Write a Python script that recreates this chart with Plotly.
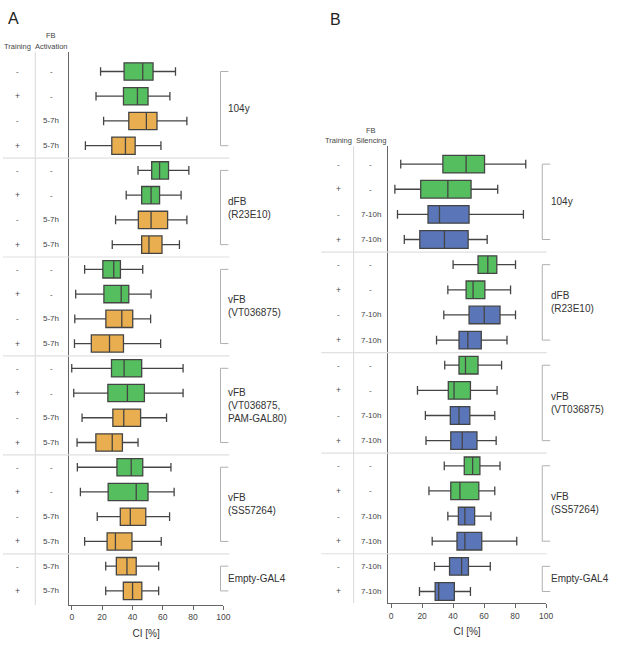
import plotly.graph_objects as go

W, H = 617, 653

# ---- panel A (FB activation) ----
a_groups = ["104y", "dFB<br>(R23E10)", "vFB<br>(VT036875)",
            "vFB<br>(VT036875,<br>PAM-GAL80)", "vFB<br>(SS57264)", "Empty-GAL4"]
a_group_sizes = [4, 4, 4, 4, 4, 2]
a_training = ["-", "+", "-", "+"] * 5 + ["-", "+"]
a_activation = ["-", "-", "5-7h", "5-7h"] * 5 + ["5-7h", "5-7h"]
a_low = [19, 16, 21, 9, 43.7, 35.9, 28.9, 26.7, 8.5, 2.6, 2, 1.8,
         0, 1.3, 6.8, 3.5, 3.7, 5.7, 16.8, 8.5, 22.4, 22.4]
a_q1 = [34.5, 34.1, 37.6, 26.4, 52.7, 46.1, 43.9, 46.1, 20.5, 21.2, 22.5, 12.9,
        26.2, 23.8, 27.1, 15.9, 29.8, 24, 32, 23.3, 29.4, 34]
a_med = [46.8, 43.3, 49.2, 35.4, 57.9, 52.3, 52.3, 50.9, 27.7, 32.6, 33, 24.9,
         34.5, 36.7, 34.3, 26.7, 39.2, 42.5, 38.6, 28.8, 36.4, 40.1]
a_q3 = [53.6, 50.3, 56.2, 41.8, 63.8, 57.9, 63.2, 59.5, 32.1, 37.6, 40.2, 34.1,
        46.1, 47.9, 45.4, 33.4, 46.8, 50.3, 48.8, 39.7, 42.5, 46.2]
a_high = [68.4, 64.7, 75.9, 58.8, 77.2, 72.1, 75.9, 71, 46.8, 52.3, 52, 58.6,
          73.4, 73.4, 62.5, 43.7, 65.4, 67.5, 64.5, 59, 57.3, 57.3]

# ---- panel B (FB silencing) ----
b_groups = ["104y", "dFB<br>(R23E10)", "vFB<br>(VT036875)", "vFB<br>(SS57264)", "Empty-GAL4"]
b_group_sizes = [4, 4, 4, 4, 2]
b_training = ["-", "+", "-", "+"] * 4 + ["-", "+"]
b_silencing = ["-", "-", "7-10h", "7-10h"] * 4 + ["7-10h", "7-10h"]
b_low = [6.2, 2.4, 4.1, 8.5, 40, 36.6, 34, 29.3, 34.6, 17, 22.1, 22.5,
         34.3, 24.4, 36.6, 26.5, 28, 18.3]
b_q1 = [33.4, 19.1, 23.8, 18.5, 56.1, 48.4, 50.3, 43.8, 43.8, 36.9, 38.2, 38.5,
        47.2, 38.5, 43.4, 42.5, 37.7, 28.4]
b_med = [48.4, 36.6, 31.2, 34.4, 62.4, 52.9, 60.1, 49.5, 48, 40.6, 43.8, 45.9,
         52.6, 44.4, 47.6, 47.6, 45.5, 30.7]
b_q3 = [60.3, 51.6, 50.3, 49.7, 68.2, 60.5, 70.3, 58.2, 56.1, 51.2, 50.8, 55.4,
        57.3, 56.6, 53.9, 58.5, 49.9, 40.8]
b_high = [86.9, 68.8, 85.4, 62, 80.3, 77.1, 80.3, 74.8, 71.3, 68.4, 66.9, 67.8,
          70.3, 66.9, 64.4, 81.1, 64, 51.2]

ticks = [0, 20, 40, 60, 80, 100]

GREEN = "#55bf5f"
ORANGE = "#e9ae4f"
BLUE = "#5a76b8"
EDGE = "#444444"
FONT = "Liberation Sans, Arial, sans-serif"


def px(x):
    return x / W


def py(y):
    return 1 - y / H


fig = go.Figure()


def add_boxes(cond, low, q1, med, q3, high, color_on, xa, ya):
    for on, color in [(False, GREEN), (True, color_on)]:
        idx = [i for i, c in enumerate(cond) if (c != "-") == on]
        fig.add_trace(go.Box(
            orientation="h",
            y=idx,
            q1=[q1[i] for i in idx],
            median=[med[i] for i in idx],
            q3=[q3[i] for i in idx],
            lowerfence=[low[i] for i in idx],
            upperfence=[high[i] for i in idx],
            fillcolor=color,
            line=dict(color=EDGE, width=1.3),
            width=0.7,
            whiskerwidth=0.5,
            boxpoints=False,
            showlegend=False,
            hoverinfo="skip",
            xaxis=xa, yaxis=ya,
        ))


add_boxes(a_activation, a_low, a_q1, a_med, a_q3, a_high, ORANGE, "x", "y")
add_boxes(b_silencing, b_low, b_q1, b_med, b_q3, b_high, BLUE, "x2", "y2")

xax = dict(range=[-2, 100], tickvals=ticks, showgrid=False, zeroline=False,
           showline=True, linecolor="#666", linewidth=1, ticks="outside",
           ticklen=4, tickcolor="#666", tickfont=dict(size=8.5, color="#444"),
           title=dict(text="CI [%]", font=dict(size=10, color="#333"), standoff=8))
yax = dict(showgrid=False, zeroline=False, showticklabels=False, ticks="",
           showline=True, linecolor="#666", linewidth=1)

n_a = len(a_training)
n_b = len(b_training)

fig.update_layout(
    width=W, height=H,
    margin=dict(l=0, r=0, t=0, b=0),
    plot_bgcolor="white", paper_bgcolor="white",
    font=dict(family=FONT, color="#333"),
    xaxis=dict(xax, domain=[px(69.5), px(226)], anchor="y"),
    yaxis=dict(yax, domain=[py(605), py(51.7)], range=[n_a - 1 + 0.57, -0.8], anchor="x"),
    xaxis2=dict(xax, domain=[px(392.5), px(552.3)], anchor="y2"),
    yaxis2=dict(yax, domain=[py(603.3), py(146)], range=[n_b - 1 + 0.47, -0.72], anchor="x2"),
)

ann = []
shapes = []


def text(x, y, s, size=8, yref="paper", xanchor="center", color="#444"):
    ann.append(dict(x=x, y=y, xref="paper", yref=yref, text=s, showarrow=False,
                    xanchor=xanchor, yanchor="middle", align="left",
                    font=dict(size=size, color=color)))


def panel(letter, lx, ly, head2, hx1, hx2, hy, train, cond, groups, sizes,
          yref, sep_x0, sep_x1, div_x, div_y0, div_y1, br_x, lab_x):
    text(px(lx), py(ly), letter, size=16, color="#222")
    text(px(hx2), py(hy - 11), "FB", size=7.5)
    text(px(hx1), py(hy), "Training", size=7.5)
    text(px(hx2), py(hy), head2, size=7.5)
    for i, (t, c) in enumerate(zip(train, cond)):
        text(px(hx1), i, t, size=8.5 if t == "+" else 8, yref=yref)
        text(px(hx2), i, c, size=8, yref=yref)
    # column divider
    shapes.append(dict(type="line", xref="paper", yref="paper",
                       x0=px(div_x), x1=px(div_x), y0=py(div_y0), y1=py(div_y1),
                       line=dict(color="#d8d8d8", width=1)))
    start = 0
    for g, n in zip(groups, sizes):
        end = start + n - 1
        if end < len(train) - 1:
            shapes.append(dict(type="line", xref="paper", yref=yref,
                               x0=px(sep_x0), x1=px(sep_x1), y0=end + 0.5, y1=end + 0.5,
                               line=dict(color="#e0e0e0", width=1.2)))
        # bracket
        for x0, x1, y0, y1 in [(br_x, br_x, start, end),
                               (br_x, br_x + 8, start, start),
                               (br_x, br_x + 8, end, end)]:
            shapes.append(dict(type="line", xref="paper", yref=yref,
                               x0=px(x0), x1=px(x1), y0=y0, y1=y1,
                               line=dict(color="#b0b0b0", width=1)))
        text(px(lab_x), (start + end) / 2, g, size=10, yref=yref, xanchor="left", color="#333")
        start += n


panel("A", 14, 18, "Activation", 17.5, 52, 46, a_training, a_activation,
      a_groups, a_group_sizes, "y", 3, 232, 35.7, 52, 605, 223, 229)
panel("B", 339, 19, "Silencing", 342, 375, 141, b_training, b_silencing,
      b_groups, b_group_sizes, "y2", 325, 553, 357.7, 146, 603, 548.5, 555)

fig.update_layout(annotations=ann, shapes=shapes)

fig.write_html("out.html", config={"displayModeBar": False},
               post_script="document.body.style.margin='0';")
